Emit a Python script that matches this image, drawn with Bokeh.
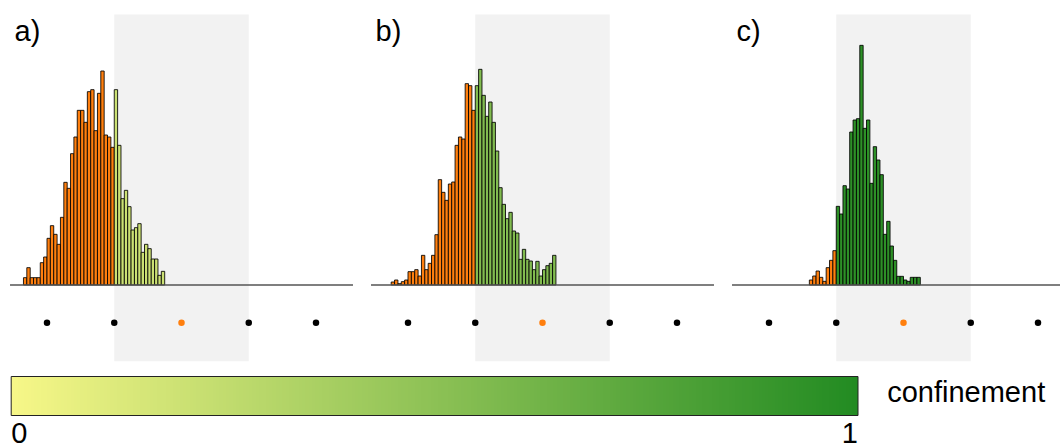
import numpy as np
from bokeh.plotting import figure
from bokeh.layouts import column, row
from bokeh.models import Range1d, Label, LinearColorMapper
from bokeh.embed import file_html
from bokeh.resources import INLINE
from bokeh.core.properties import value

# ---------------- data ----------------
panel_labels = ["a)", "b)", "c)"]
bin_width = 0.05
bin_start = [-2.35, -2.25, -1.40]
threshold = -1.0
confinement = [0.20, 0.55, 0.95]

heights_a = [22, 52, 22, 22, 22, 67, 84, 140, 178, 152, 122, 203, 308, 290, 394,
             444, 524, 524, 488, 580, 586, 463, 575, 642, 450, 444, 413,
             586, 419, 259, 284, 235, 165, 172, 184, 98, 122, 109, 78, 78, 29, 41]
heights_b = [9, 15, 4, 10, 15, 40, 40, 46, 27, 89, 46, 65, 89, 151, 316, 278, 254,
             303, 309, 419, 444, 438, 604, 598, 524,
             598, 647, 569, 506, 549, 488, 402, 292, 242, 199, 218, 162, 156, 77,
             107, 77, 72, 46, 71, 27, 46, 58, 65, 89]
heights_c = [15, 27, 42, 23, 11, 52, 74, 103,
             236, 213, 298, 288, 459, 495, 499, 719, 470, 495, 305, 415, 375, 331,
             152, 191, 117, 74, 26, 26, 15, 11, 23, 23, 23]
all_heights = [heights_a, heights_b, heights_c]

dot_positions = [-2, -1, 0, 1, 2]
dot_highlight = 0
shade_range = (-1, 1)
axis_extent = (-2.55, 2.55)

cbar_ticks = [0, 1]
cbar_tick_labels = ["0", "1"]
cbar_title = "confinement"
cmap_low = "#f7f788"
cmap_high = "#228b22"

ORANGE = "#ff7f0e"
FONT = "Liberation Sans"
FSIZE = "29px"
TEXT_SHIFT = 10    # px correction for the svg text baseline


def hex2rgb(h):
    h = h.lstrip("#")
    return tuple(int(h[i:i + 2], 16) for i in (0, 2, 4))


def cmap(t):
    a, b = hex2rgb(cmap_low), hex2rgb(cmap_high)
    c = [round(a[k] + (b[k] - a[k]) * t) for k in range(3)]
    return "#%02x%02x%02x" % tuple(c)


palette = [cmap(i / 255) for i in range(256)]

# ---------------- layout parameters ----------------
S = 67.25          # px per data unit along x
ZERO_PX = 181      # px offset of x=0 inside each panel
YS = 3.0           # data units per px along y
BASE_PX = 284.5    # baseline pixel row
TOP_H = 370
widths = [361, 361, 338]

panels = []
for i, w in enumerate(widths):
    p = figure(width=w, height=TOP_H,
               x_range=Range1d(-ZERO_PX / S, (w - ZERO_PX) / S),
               y_range=Range1d(-(TOP_H - BASE_PX) * YS, BASE_PX * YS),
               output_backend="svg", toolbar_location=None,
               x_axis_location=None, y_axis_location=None, min_border=0)
    p.grid.visible = False
    p.outline_line_color = None

    # shaded region
    p.quad(left=shade_range[0], right=shade_range[1],
           bottom=-(360.7 - BASE_PX) * YS, top=(BASE_PX - 14) * YS,
           fill_color="#f2f2f2", line_color=None)

    h = all_heights[i]
    lefts = [bin_start[i] + k * bin_width for k in range(len(h))]
    rights = [l + bin_width for l in lefts]
    colors = [ORANGE if l < threshold - 1e-9 else cmap(confinement[i]) for l in lefts]
    p.quad(left=lefts, right=rights, bottom=0, top=h, fill_color=colors,
           line_color="black", line_alpha=0.85, line_width=1)

    p.line(x=list(axis_extent), y=[0, 0], line_color="#555555", line_width=1.5)

    dot_colors = [ORANGE if d == dot_highlight else "black" for d in dot_positions]
    p.scatter(x=dot_positions, y=[-(322.3 - BASE_PX) * YS] * len(dot_positions),
              size=6.5, fill_color=dot_colors, line_color=None)

    p.add_layout(Label(x=14, y=TOP_H - 40 + TEXT_SHIFT, x_units="screen", y_units="screen",
                       text=panel_labels[i], text_font=FONT,
                       text_font_size=FSIZE, text_baseline="alphabetic",
                       text_color="black"))
    panels.append(p)

# ---------------- colorbar ----------------
CB_H = 447 - TOP_H
CS = 846.8
CX0 = 10.7
cb = figure(width=1060, height=CB_H,
            x_range=Range1d(-CX0 / CS, (1060 - CX0) / CS),
            y_range=Range1d(0, CB_H),
            output_backend="svg", toolbar_location=None,
            x_axis_location=None, y_axis_location=None, min_border=0)
cb.grid.visible = False
cb.outline_line_color = None

mapper = LinearColorMapper(palette=palette, low=cbar_ticks[0], high=cbar_ticks[1])
grad = np.array([np.linspace(cbar_ticks[0], cbar_ticks[1], 512)])
cb.image(image=[grad], x=cbar_ticks[0], y=447 - 415, dw=cbar_ticks[1] - cbar_ticks[0],
         dh=415 - 376, color_mapper=mapper)
cb.quad(left=cbar_ticks[0], right=cbar_ticks[1], bottom=447 - 415, top=447 - 376,
        fill_color=None, line_color="#222222", line_width=1)

tick_y = 447 - 442 + TEXT_SHIFT
cb.text(x=[cbar_ticks[0]], y=[tick_y], text=[cbar_tick_labels[0]],
        text_align="left", text_baseline="alphabetic",
        text_font=value(FONT), text_font_size=FSIZE, text_color="black")
cb.text(x=[cbar_ticks[1]], y=[tick_y], text=[cbar_tick_labels[1]],
        text_align="right", text_baseline="alphabetic",
        text_font=value(FONT), text_font_size=FSIZE, text_color="black")
cb.text(x=[(886.7 - CX0) / CS], y=[447 - 401.7 + TEXT_SHIFT], text=[cbar_title],
        text_align="left", text_baseline="alphabetic",
        text_font=value(FONT), text_font_size=FSIZE, text_color="black")

layout = column(row(*panels, spacing=0), cb, spacing=0)
open("out.html", "w").write(file_html(layout, INLINE))
